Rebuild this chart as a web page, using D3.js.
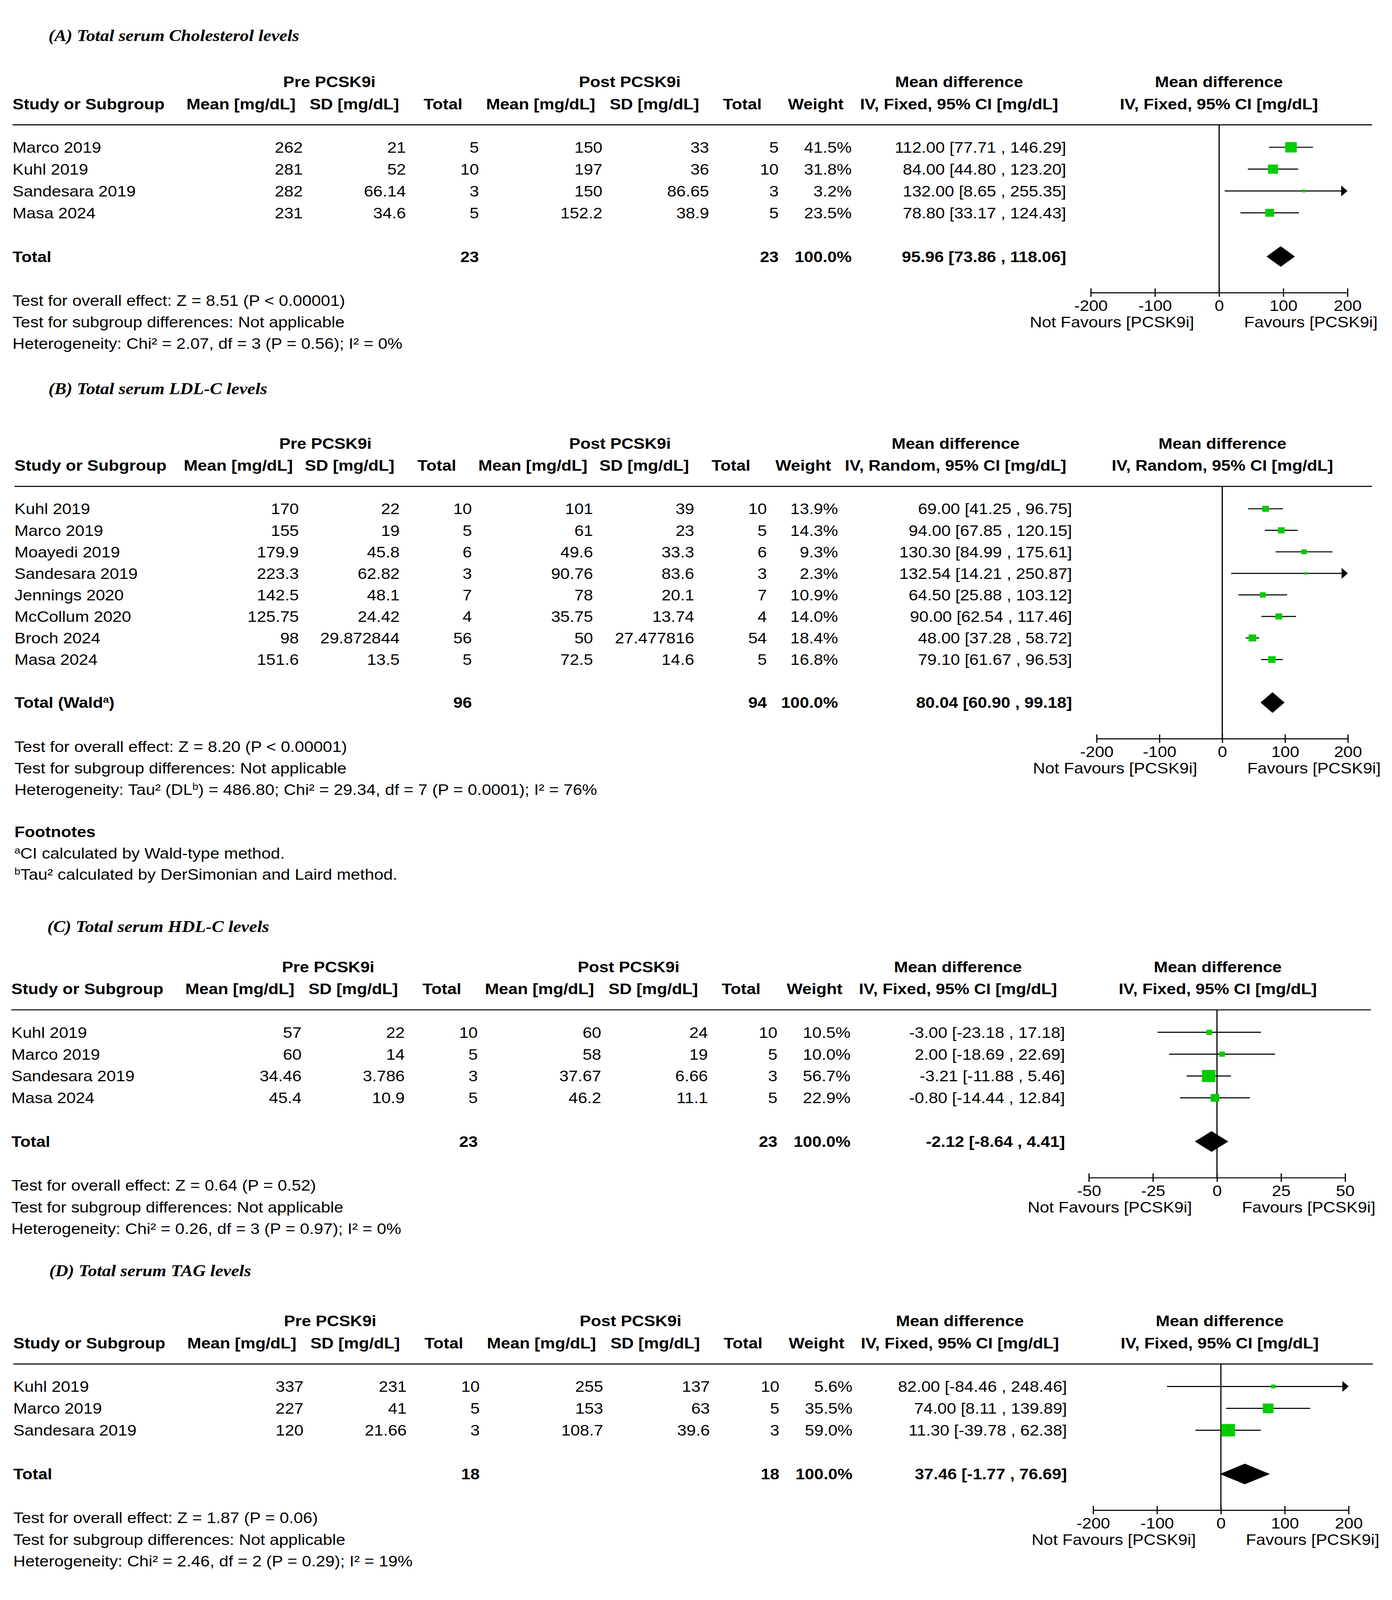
<!DOCTYPE html>
<html>
<head>
<meta charset="utf-8">
<script src="https://cdn.jsdelivr.net/npm/d3@7"></script>
<style>html,body{margin:0;padding:0;background:#fff;overflow:hidden}svg{display:block}</style>
</head>
<body>
<div id="chart"></div>
<script>
// values

// (A) cholesterol
var cholStudies  = ["Marco 2019","Kuhl 2019","Sandesara 2019","Masa 2024"];
var cholPreMean  = [262,281,282,231];
var cholPreSd    = [21,52,66.14,34.6];
var cholPreN     = [5,10,3,5];
var cholPostMean = [150,197,150,152.2];
var cholPostSd   = [33,36,86.65,38.9];
var cholPostN    = [5,10,3,5];
var cholWeight   = [41.5,31.8,3.2,23.5];
var cholMd       = [112.00,84.00,132.00,78.80];
var cholLo       = [77.71,44.80,8.65,33.17];
var cholHi       = [146.29,123.20,255.35,124.43];
var cholTotalN   = [23,23];
var cholPooled   = [95.96,73.86,118.06];
var cholNotes    = ["Test for overall effect: Z = 8.51 (P < 0.00001)",
                    "Test for subgroup differences: Not applicable",
                    "Heterogeneity: Chi² = 2.07, df = 3 (P = 0.56); I² = 0%"];

// (B) LDL-C
var ldlStudies  = ["Kuhl 2019","Marco 2019","Moayedi 2019","Sandesara 2019","Jennings 2020","McCollum 2020","Broch 2024","Masa 2024"];
var ldlPreMean  = [170,155,179.9,223.3,142.5,125.75,98,151.6];
var ldlPreSd    = [22,19,45.8,62.82,48.1,24.42,29.872844,13.5];
var ldlPreN     = [10,5,6,3,7,4,56,5];
var ldlPostMean = [101,61,49.6,90.76,78,35.75,50,72.5];
var ldlPostSd   = [39,23,33.3,83.6,20.1,13.74,27.477816,14.6];
var ldlPostN    = [10,5,6,3,7,4,54,5];
var ldlWeight   = [13.9,14.3,9.3,2.3,10.9,14.0,18.4,16.8];
var ldlMd       = [69.00,94.00,130.30,132.54,64.50,90.00,48.00,79.10];
var ldlLo       = [41.25,67.85,84.99,14.21,25.88,62.54,37.28,61.67];
var ldlHi       = [96.75,120.15,175.61,250.87,103.12,117.46,58.72,96.53];
var ldlTotalN   = [96,94];
var ldlPooled   = [80.04,60.90,99.18];
var ldlNotes    = ["Test for overall effect: Z = 8.20 (P < 0.00001)",
                   "Test for subgroup differences: Not applicable",
                   "Heterogeneity: Tau² (DL^b) = 486.80; Chi² = 29.34, df = 7 (P = 0.0001); I² = 76%"];
var ldlFootnotes = ["^aCI calculated by Wald-type method.",
                    "^bTau² calculated by DerSimonian and Laird method."];

// (C) HDL-C
var hdlStudies  = ["Kuhl 2019","Marco 2019","Sandesara 2019","Masa 2024"];
var hdlPreMean  = [57,60,34.46,45.4];
var hdlPreSd    = [22,14,3.786,10.9];
var hdlPreN     = [10,5,3,5];
var hdlPostMean = [60,58,37.67,46.2];
var hdlPostSd   = [24,19,6.66,11.1];
var hdlPostN    = [10,5,3,5];
var hdlWeight   = [10.5,10.0,56.7,22.9];
var hdlMd       = [-3.00,2.00,-3.21,-0.80];
var hdlLo       = [-23.18,-18.69,-11.88,-14.44];
var hdlHi       = [17.18,22.69,5.46,12.84];
var hdlTotalN   = [23,23];
var hdlPooled   = [-2.12,-8.64,4.41];
var hdlNotes    = ["Test for overall effect: Z = 0.64 (P = 0.52)",
                   "Test for subgroup differences: Not applicable",
                   "Heterogeneity: Chi² = 0.26, df = 3 (P = 0.97); I² = 0%"];

// (D) TAG
var tagStudies  = ["Kuhl 2019","Marco 2019","Sandesara 2019"];
var tagPreMean  = [337,227,120];
var tagPreSd    = [231,41,21.66];
var tagPreN     = [10,5,3];
var tagPostMean = [255,153,108.7];
var tagPostSd   = [137,63,39.6];
var tagPostN    = [10,5,3];
var tagWeight   = [5.6,35.5,59.0];
var tagMd       = [82.00,74.00,11.30];
var tagLo       = [-84.46,8.11,-39.78];
var tagHi       = [248.46,139.89,62.38];
var tagTotalN   = [18,18];
var tagPooled   = [37.46,-1.77,76.69];
var tagNotes    = ["Test for overall effect: Z = 1.87 (P = 0.06)",
                   "Test for subgroup differences: Not applicable",
                   "Heterogeneity: Chi² = 2.46, df = 2 (P = 0.29); I² = 19%"];

var wideTicks   = [-200,-100,0,100,200];
var narrowTicks = [-50,-25,0,25,50];

// ---- layout ----
var W = 3563, H = 4563;
var FS = 43, BASE = 15.5;
var SANS = "'Liberation Sans', Arial, sans-serif";
var GREEN = "#00cc00";

var colsMain = {study:32, preMean:[617,775], preSd:[907,1039], preN:[1134,1226],
  postMean:[1384,1542], postSd:[1675,1815], postN:[1900,1993], weight:[2088,2180],
  ci:[2455,2729], plot:3120, pre:843, post:1612, lineEnd:3512};
var colsLdl = {study:37, preMean:[610,765], preSd:[895,1023], preN:[1118,1208],
  postMean:[1364,1518], postSd:[1649,1777], postN:[1871,1963], weight:[2056,2145],
  ci:[2446,2744], plot:3129, pre:833, post:1587, lineEnd:3512};

function rows(st, pm, ps, pn, qm, qs, qn, w, md, lo, hi) {
  return st.map(function(s, i) {
    return {study:s, preMean:pm[i], preSd:ps[i], preN:pn[i], postMean:qm[i], postSd:qs[i],
            postN:qn[i], weight:w[i], md:md[i], lo:lo[i], hi:hi[i]};
  });
}

var panels = [
  {title:"(A) Total serum Cholesterol levels", titleY:102, lineY:356, step:62.3, dx:0, cols:colsMain,
   method:"IV, Fixed, 95% CI [mg/dL]", totalLabel:"Total", range:[2792,3449], ticks:wideTicks,
   rows:rows(cholStudies,cholPreMean,cholPreSd,cholPreN,cholPostMean,cholPostSd,cholPostN,cholWeight,cholMd,cholLo,cholHi),
   totalN:cholTotalN, pooled:cholPooled, notes:cholNotes},
  {title:"(B) Total serum LDL-C levels", titleY:1109, lineY:1387, step:61.4, dx:0, cols:colsLdl,
   method:"IV, Random, 95% CI [mg/dL]", totalLabel:"Total (Wald^a)", range:[2807,3450], ticks:wideTicks,
   rows:rows(ldlStudies,ldlPreMean,ldlPreSd,ldlPreN,ldlPostMean,ldlPostSd,ldlPostN,ldlWeight,ldlMd,ldlLo,ldlHi),
   totalN:ldlTotalN, pooled:ldlPooled, notes:ldlNotes, footnotes:ldlFootnotes},
  {title:"(C) Total serum HDL-C levels", titleY:2643, lineY:2880, step:62.3, dx:-3, cols:colsMain,
   method:"IV, Fixed, 95% CI [mg/dL]", totalLabel:"Total", range:[2790,3446], ticks:narrowTicks,
   rows:rows(hdlStudies,hdlPreMean,hdlPreSd,hdlPreN,hdlPostMean,hdlPostSd,hdlPostN,hdlWeight,hdlMd,hdlLo,hdlHi),
   totalN:hdlTotalN, pooled:hdlPooled, notes:hdlNotes},
  {title:"(D) Total serum TAG levels", titleY:3625, lineY:3890, step:62.4, dx:2, cols:colsMain,
   method:"IV, Fixed, 95% CI [mg/dL]", totalLabel:"Total", range:[2796,3450], ticks:wideTicks,
   rows:rows(tagStudies,tagPreMean,tagPreSd,tagPreN,tagPostMean,tagPostSd,tagPostN,tagWeight,tagMd,tagLo,tagHi),
   totalN:tagTotalN, pooled:tagPooled, notes:tagNotes}
];

// fit the whole figure into the visible window
var vw = window.innerWidth || W, vh = window.innerHeight || H;
var svg = d3.select("#chart").append("svg")
  .attr("width", vw).attr("height", vh)
  .attr("viewBox", "0 0 " + W + " " + H)
  .attr("preserveAspectRatio", "none")
  .attr("xmlns", "http://www.w3.org/2000/svg")
  .style("font-family", SANS);
svg.append("rect").attr("width", W).attr("height", H).attr("fill", "#fff");

// square side from study weight
var boxSize = d3.scaleSqrt().domain([0, 100]).range([0, 46]);

// text with "^x" marking a one-letter superscript
function label(g, x, y, s, anchor, bold) {
  var t = g.append("text").attr("x", x).attr("y", y + BASE)
    .attr("font-size", FS).attr("text-anchor", anchor || "start")
    .attr("font-weight", bold ? "bold" : "normal");
  s.split(/(\^.)/).forEach(function(part) {
    if (!part) return;
    if (part[0] === "^") {
      t.append("tspan").attr("baseline-shift", "super").attr("font-size", 27).text(part.slice(1));
    } else {
      t.append("tspan").text(part);
    }
  });
  return t;
}

function ciText(md, lo, hi) {
  return md.toFixed(2) + " [" + lo.toFixed(2) + " , " + hi.toFixed(2) + "]";
}

panels.forEach(function(p) {
  var c = p.cols;
  var g = svg.append("g").attr("transform", "translate(" + p.dx + ",0)");
  var x = d3.scaleLinear().domain(d3.extent(p.ticks)).range(p.range);
  var dom = x.domain();

  g.append("text").attr("x", 124).attr("y", p.titleY + 15)
    .attr("font-family", "'Liberation Serif', 'Times New Roman', serif")
    .attr("font-style", "italic").attr("font-weight", "bold").attr("font-size", 46)
    .text(p.title);

  var h1 = p.lineY - 123, h2 = p.lineY - 60;
  label(g, c.pre, h1, "Pre PCSK9i", "middle", true);
  label(g, c.post, h1, "Post PCSK9i", "middle", true);
  label(g, c.ci[0], h1, "Mean difference", "middle", true);
  label(g, c.plot, h1, "Mean difference", "middle", true);

  label(g, c.study, h2, "Study or Subgroup", "start", true);
  label(g, c.preMean[0], h2, "Mean [mg/dL]", "middle", true);
  label(g, c.preSd[0], h2, "SD [mg/dL]", "middle", true);
  label(g, c.preN[0], h2, "Total", "middle", true);
  label(g, c.postMean[0], h2, "Mean [mg/dL]", "middle", true);
  label(g, c.postSd[0], h2, "SD [mg/dL]", "middle", true);
  label(g, c.postN[0], h2, "Total", "middle", true);
  label(g, c.weight[0], h2, "Weight", "middle", true);
  label(g, c.ci[0], h2, p.method, "middle", true);
  label(g, c.plot, h2, p.method, "middle", true);

  g.append("line").attr("x1", c.study).attr("x2", c.lineEnd)
    .attr("y1", p.lineY).attr("y2", p.lineY)
    .attr("stroke", "#000").attr("stroke-width", 3);

  var rowY = function(i) { return p.lineY + 64 + i * p.step; };
  var n = p.rows.length;
  var totalY = rowY(n + 1);
  var axisY = totalY + 103;

  // zero line
  g.append("line").attr("x1", x(0)).attr("x2", x(0))
    .attr("y1", p.lineY).attr("y2", axisY)
    .attr("stroke", "#000").attr("stroke-width", 3);

  p.rows.forEach(function(r, i) {
    var y = rowY(i);
    label(g, c.study, y, r.study);
    label(g, c.preMean[1], y, String(r.preMean), "end");
    label(g, c.preSd[1], y, String(r.preSd), "end");
    label(g, c.preN[1], y, String(r.preN), "end");
    label(g, c.postMean[1], y, String(r.postMean), "end");
    label(g, c.postSd[1], y, String(r.postSd), "end");
    label(g, c.postN[1], y, String(r.postN), "end");
    label(g, c.weight[1], y, r.weight.toFixed(1) + "%", "end");
    label(g, c.ci[1], y, ciText(r.md, r.lo, r.hi), "end");

    var a = Math.max(r.lo, dom[0]), b = Math.min(r.hi, dom[1]);
    var bEnd = r.hi > dom[1] ? x(dom[1]) - 16 : x(b);
    var aEnd = r.lo < dom[0] ? x(dom[0]) + 16 : x(a);
    g.append("line").attr("x1", aEnd).attr("x2", bEnd).attr("y1", y).attr("y2", y)
      .attr("stroke", "#000").attr("stroke-width", 3);
    if (r.hi > dom[1]) {
      var t = x(dom[1]);
      g.append("path").attr("d", "M" + t + "," + y + "L" + (t - 16) + "," + (y - 15.5) + "L" + (t - 16) + "," + (y + 15.5) + "Z")
        .attr("fill", "#000");
    }
    if (r.lo < dom[0]) {
      var t0 = x(dom[0]);
      g.append("path").attr("d", "M" + t0 + "," + y + "L" + (t0 + 16) + "," + (y - 15.5) + "L" + (t0 + 16) + "," + (y + 15.5) + "Z")
        .attr("fill", "#000");
    }
    var s = boxSize(r.weight);
    g.append("rect").attr("x", x(r.md) - s / 2).attr("y", y - s / 2)
      .attr("width", s).attr("height", s).attr("fill", GREEN);
  });

  // total row
  label(g, c.study, totalY, p.totalLabel, "start", true);
  label(g, c.preN[1], totalY, String(p.totalN[0]), "end", true);
  label(g, c.postN[1], totalY, String(p.totalN[1]), "end", true);
  label(g, c.weight[1], totalY, "100.0%", "end", true);
  label(g, c.ci[1], totalY, ciText(p.pooled[0], p.pooled[1], p.pooled[2]), "end", true);
  var pm = p.pooled;
  g.append("path")
    .attr("d", "M" + x(pm[1]) + "," + totalY + "L" + x(pm[0]) + "," + (totalY - 29.5) +
               "L" + x(pm[2]) + "," + totalY + "L" + x(pm[0]) + "," + (totalY + 29.5) + "Z")
    .attr("fill", "#000");

  // axis
  var ax = g.append("g").attr("transform", "translate(0," + axisY + ")")
    .call(d3.axisBottom(x).tickValues(p.ticks).tickSizeOuter(0).tickSizeInner(12)
      .tickFormat(function(d) { return String(d); }));
  ax.select(".domain").attr("stroke-width", 3);
  ax.selectAll(".tick line").attr("y1", -12).attr("y2", 12).attr("stroke-width", 3);
  ax.selectAll(".tick text").attr("y", 37 + BASE).attr("dy", null)
    .attr("font-size", FS).attr("font-family", SANS);
  label(g, x(0) - 64, axisY + 84, "Not Favours [PCSK9i]", "end");
  label(g, x(0) + 64, axisY + 84, "Favours [PCSK9i]", "start");

  p.notes.forEach(function(s, i) {
    label(g, c.study, totalY + 125 + i * 61.5, s);
  });
  if (p.footnotes) {
    label(g, c.study, totalY + 368, "Footnotes", "start", true);
    p.footnotes.forEach(function(s, i) {
      label(g, c.study, totalY + 430 + i * 60, s);
    });
  }
});
</script>
</body>
</html>
